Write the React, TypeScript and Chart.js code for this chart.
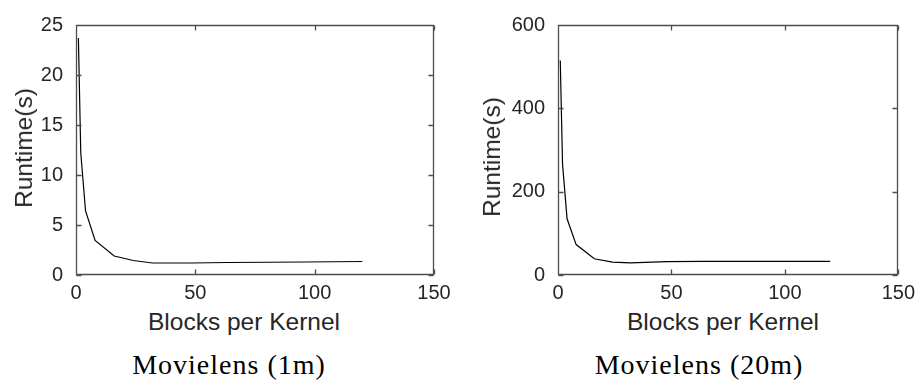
import React, { useEffect, useRef } from "react";
import { Chart, registerables } from "chart.js";

Chart.register(...registerables);

// ---- data ----
const blocksPerKernel = [1, 2, 4, 8, 16, 24, 32, 48, 64, 96, 120];
const runtime1m = [23.7, 12.2, 6.4, 3.45, 1.9, 1.45, 1.2, 1.2, 1.25, 1.3, 1.35];
const runtime20m = [515, 266, 135, 73, 39, 31, 29, 32, 32.5, 32.5, 32.5];
const xTicks = [0, 50, 100, 150];
const yTicks1m = [0, 5, 10, 15, 20, 25];
const yTicks20m = [0, 200, 400, 600];
const xLabel = "Blocks per Kernel";
const yLabel = "Runtime(s)";
const captions = ["Movielens (1m)", "Movielens (20m)"];

const SANS = '"Liberation Sans", Arial, Helvetica, sans-serif';
const TEXT = "#262626";
const AXIS = "#4d4d4d";

const boxPlugin = {
  id: "boxTicks",
  afterDatasetsDraw(chart: any) {
    const ctx = chart.ctx;
    const a = chart.chartArea;
    const xs = chart.scales.x;
    const ys = chart.scales.y;
    const L = Math.round(a.left) + 0.5;
    const R = Math.round(a.right) - 0.5;
    const T = Math.round(a.top) + 0.5;
    const B = Math.round(a.bottom) - 0.5;
    ctx.save();
    ctx.strokeStyle = AXIS;
    ctx.lineWidth = 1.3;
    ctx.beginPath();
    ctx.moveTo(L, T);
    ctx.lineTo(R, T);
    ctx.lineTo(R, B);
    ctx.lineTo(L, B);
    ctx.closePath();
    const len = 5;
    for (const v of xTicks) {
      const px = Math.round(xs.getPixelForValue(v)) + 0.5;
      ctx.moveTo(px, B);
      ctx.lineTo(px, B - len);
      ctx.moveTo(px, T);
      ctx.lineTo(px, T + len);
    }
    const yt = ys.ticks.map((t: any) => t.value);
    for (const v of yt) {
      const py = Math.round(ys.getPixelForValue(v)) + 0.5;
      ctx.moveTo(L, py);
      ctx.lineTo(L + len, py);
      ctx.moveTo(R, py);
      ctx.lineTo(R - len, py);
    }
    ctx.stroke();
    ctx.restore();
  },
};

type PanelProps = {
  values: number[];
  yTicks: number[];
  yWidth: number;
  padTop: number;
  padRight: number;
  width: number;
};

function Panel({ values, yTicks, yWidth, padTop, padRight, width }: PanelProps) {
  const ref = useRef<HTMLCanvasElement | null>(null);
  useEffect(() => {
    if (!ref.current) return;
    const data = blocksPerKernel.map((x, i) => ({ x, y: values[i] }));
    const font = { family: SANS, size: 20 };
    const chart = new Chart(ref.current, {
      type: "line",
      data: {
        datasets: [
          {
            data,
            borderColor: "#000000",
            borderWidth: 1.2,
            pointRadius: 0,
            tension: 0,
            fill: false,
            clip: false,
          },
        ],
      },
      options: {
        animation: false,
        responsive: false,
        devicePixelRatio: 1,
        layout: { padding: { top: padTop, right: padRight, left: 0, bottom: 0 } },
        plugins: { legend: { display: false }, tooltip: { enabled: false } },
        scales: {
          x: {
            type: "linear",
            min: xTicks[0],
            max: xTicks[xTicks.length - 1],
            afterBuildTicks: (s: any) => {
              s.ticks = xTicks.map((v) => ({ value: v }));
            },
            ticks: { font, color: TEXT, padding: 6, maxRotation: 0, autoSkip: false },
            grid: { display: false, drawTicks: false },
            border: { display: false },
            afterFit: (s: any) => {
              s.height = 25;
            },
          },
          y: {
            type: "linear",
            min: yTicks[0],
            max: yTicks[yTicks.length - 1],
            afterBuildTicks: (s: any) => {
              s.ticks = yTicks.map((v) => ({ value: v }));
            },
            ticks: { font, color: TEXT, padding: 13, autoSkip: false },
            grid: { display: false, drawTicks: false },
            border: { display: false },
            afterFit: (s: any) => {
              s.width = yWidth;
            },
          },
        },
      },
      plugins: [boxPlugin],
    } as any);
    return () => chart.destroy();
  }, [values, yTicks, yWidth, padTop, padRight, width]);
  return <canvas ref={ref} width={width} height={300} style={{ display: "block" }} />;
}

const labelStyle: React.CSSProperties = {
  position: "absolute",
  fontFamily: SANS,
  color: TEXT,
  lineHeight: "24px",
  fontSize: 24.5,
  whiteSpace: "nowrap",
};

const captionStyle: React.CSSProperties = {
  position: "absolute",
  fontFamily: '"Liberation Serif", "Times New Roman", serif',
  color: "#000",
  fontSize: 28,
  letterSpacing: 1,
  lineHeight: "28px",
  whiteSpace: "nowrap",
  transform: "translateX(-50%)",
  top: 351,
};

export default function App() {
  return (
    <div
      style={{
        position: "absolute",
        left: 0,
        top: 0,
        width: 921,
        height: 388,
        background: "#fff",
        overflow: "hidden",
      }}
    >
      <div style={{ position: "absolute", left: 0, top: 0 }}>
        <Panel values={runtime1m} yTicks={yTicks1m} yWidth={76} padTop={10} padRight={26} width={460} />
      </div>
      <div style={{ position: "absolute", left: 460, top: 0 }}>
        <Panel values={runtime20m} yTicks={yTicks20m} yWidth={98} padTop={24} padRight={18} width={461} />
      </div>

      <div style={{ ...labelStyle, left: 244, top: 310, transform: "translateX(-50%)" }}>{xLabel}</div>
      <div style={{ ...labelStyle, left: 723, top: 310, transform: "translateX(-50%)" }}>{xLabel}</div>

      <div
        style={{
          ...labelStyle,
          left: 23.5,
          top: 148,
          transform: "translate(-50%, -50%) rotate(-90deg)",
        }}
      >
        {yLabel}
      </div>
      <div
        style={{
          ...labelStyle,
          left: 492,
          top: 157,
          transform: "translate(-50%, -50%) rotate(-90deg)",
        }}
      >
        {yLabel}
      </div>

      <div style={{ ...captionStyle, left: 229 }}>{captions[0]}</div>
      <div style={{ ...captionStyle, left: 699 }}>{captions[1]}</div>
    </div>
  );
}
